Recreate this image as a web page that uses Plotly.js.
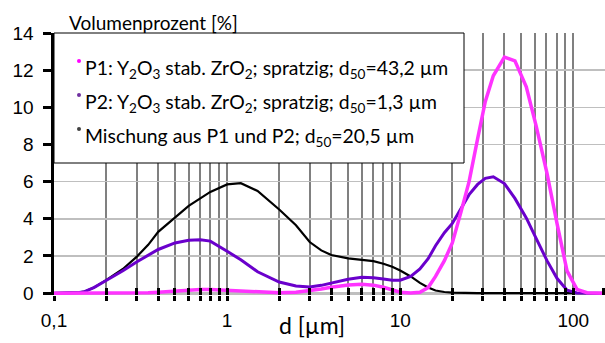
<!DOCTYPE html>
<html>
<head>
<meta charset="utf-8">
<script src="https://cdn.plot.ly/plotly-3.0.1.min.js"></script>
<style>html,body{margin:0;padding:0;background:#fff}#chart{width:605px;height:343px}</style>
</head>
<body>
<div id="chart"></div>
<script>
// particle size d [µm]
const d = [0.1, 0.12, 0.14, 0.15, 0.17, 0.2, 0.25, 0.3, 0.35, 0.4, 0.5, 0.6, 0.7, 0.8, 1.0, 1.2, 1.5, 2, 2.5, 3, 3.5, 4, 5, 6, 7, 8, 9, 10, 11.5, 13, 14.5, 16, 18, 20, 22.5, 25, 28, 31, 34.5, 40, 46, 53.5, 61, 70.5, 80.5, 92, 105, 120, 150];
// P1 (magenta)
const p1 = [0, 0, 0, 0, 0, 0, 0, 0, 0.02, 0.05, 0.12, 0.18, 0.2, 0.2, 0.16, 0.11, 0.05, 0.02, 0.05, 0.13, 0.22, 0.32, 0.44, 0.48, 0.43, 0.32, 0.17, 0.05, 0.01, 0.05, 0.3, 0.9, 1.75, 2.7, 4.4, 6.0, 8.3, 10.3, 11.7, 12.7, 12.5, 11.1, 9.0, 6.45, 3.75, 1.2, 0.2, 0.02, 0];
// P2 (purple)
const p2 = [0, 0.01, 0.04, 0.08, 0.3, 0.68, 1.2, 1.68, 2.05, 2.35, 2.7, 2.85, 2.87, 2.8, 2.25, 1.8, 1.15, 0.6, 0.38, 0.33, 0.42, 0.55, 0.75, 0.85, 0.83, 0.76, 0.7, 0.7, 0.9, 1.3, 1.85, 2.55, 3.25, 3.75, 4.6, 5.3, 5.85, 6.18, 6.26, 5.9, 5.1, 4.05, 2.95, 1.75, 0.8, 0.16, 0.01, 0, 0];
// Mischung (black)
const mix = [0, 0.01, 0.04, 0.08, 0.3, 0.7, 1.3, 1.95, 2.6, 3.3, 4.1, 4.7, 5.1, 5.45, 5.85, 5.92, 5.5, 4.5, 3.65, 2.75, 2.3, 2.05, 1.87, 1.8, 1.72, 1.58, 1.42, 1.22, 0.9, 0.55, 0.3, 0.14, 0.06, 0.03, 0.01, 0, 0, 0, 0, 0, 0, 0, 0, 0, 0, 0, 0, 0, 0];

const seriesNames = [
  "P1: Y<sub>2</sub>O<sub>3</sub> stab. ZrO<sub>2</sub>; spratzig; d<sub>50</sub>=43,2 µm",
  "P2: Y<sub>2</sub>O<sub>3</sub> stab. ZrO<sub>2</sub>; spratzig; d<sub>50</sub>=1,3 µm",
  "Mischung aus P1 und P2; d<sub>50</sub>=20,5 µm"
];
const dotColors = ["#FF00FF", "#7030A0", "#404040"];

const majorVals = [0.1, 1, 10, 100];
const majorText = ["0,1", "1", "10", "100"];
const minorVals = [0.2,0.3,0.4,0.5,0.6,0.7,0.8,0.9,2,3,4,5,6,7,8,9,20,30,40,50,60,70,80,90];
const allTickVals = majorVals.concat(minorVals, [150]);
const yTicks = [0, 2, 4, 6, 8, 10, 12, 14];

const W = 605, H = 343, L = 54, T = 33, B = 48;
const plotW = W - L, plotH = H - T - B;
const px = v => (v - L) / plotW;
const py = v => (T + plotH - v) / plotH;

const traces = [
  {x: d, y: mix, name: "Mischung", mode: "lines", line: {color: "#000000", width: 2.2}},
  {x: d, y: p2, name: "P2", mode: "lines", line: {color: "#6A00CC", width: 3}},
  {x: d, y: p1, name: "P1", mode: "lines", line: {color: "#FF33FF", width: 3.5}},
  {x: [1], y: [-5], xaxis: "x2", mode: "markers", marker: {opacity: 0}, hoverinfo: "skip"}
];

const uiFont = "Lato, 'Open Sans', sans-serif";
const numFont = "'Liberation Sans', Arial, sans-serif";
const annotations = [
  {text: "Volumenprozent [%]", xref: "paper", yref: "paper", x: px(67), y: py(22), xanchor: "left", yanchor: "middle", showarrow: false, font: {family: uiFont, size: 19, color: "#000"}},
  {text: "d [µm]", xref: "paper", yref: "paper", x: px(312), y: py(325), xanchor: "center", yanchor: "middle", showarrow: false, font: {family: uiFont, size: 23, color: "#000"}}
];
const shapes = [
  {type: "line", xref: "paper", yref: "y", x0: 0, x1: 1, y0: 0, y1: 0, line: {color: "#000", width: 2}, layer: "between"},
  {type: "rect", xref: "paper", yref: "paper", x0: 0, x1: px(464), y0: py(163), y1: 1, fillcolor: "#FFFFFF", line: {color: "#000", width: 1}, layer: "above"}
];
const rowY = [69, 103, 137];
seriesNames.forEach((s, i) => {
  annotations.push({text: s, xref: "paper", yref: "paper", x: px(83), y: py(rowY[i]), xanchor: "left", yanchor: "middle", showarrow: false, font: {family: uiFont, size: 19.4, color: "#000"}});
  shapes.push({type: "circle", xref: "paper", yref: "paper", x0: px(77), x1: px(81), y0: py(rowY[i] - 6), y1: py(rowY[i] - 10), fillcolor: dotColors[i], line: {width: 0}, layer: "above"});
});

const xr = [-1, -1 + plotW / 173.1];
const layout = {
  width: W, height: H,
  margin: {l: L, r: 0, t: T, b: B, pad: 0},
  paper_bgcolor: "#fff", plot_bgcolor: "#fff",
  showlegend: false,
  xaxis: {
    type: "log", range: xr, tickmode: "array", tickvals: majorVals, ticktext: majorText,
    showgrid: true, gridcolor: "#808080", gridwidth: 2,
    ticks: "outside", ticklen: 5, tickwidth: 3, tickcolor: "#000",
    minor: {tickmode: "array", tickvals: minorVals, ticks: "outside", ticklen: 5, tickwidth: 3, tickcolor: "#000",
            showgrid: true, gridcolor: "#808080", gridwidth: 2},
    showline: false, zeroline: false, ticklabelstandoff: 3,
    tickfont: {family: numFont, size: 19, color: "#000"}
  },
  xaxis2: {
    type: "log", range: xr, overlaying: "x", anchor: "y", side: "bottom",
    tickmode: "array", tickvals: allTickVals, showticklabels: false,
    ticks: "inside", ticklen: 7, tickwidth: 3, tickcolor: "#000",
    showgrid: false, showline: false, zeroline: false
  },
  yaxis: {
    range: [-0.1, 14], tickmode: "array", tickvals: yTicks, ticktext: yTicks.map(String),
    showgrid: true, gridcolor: "#BFBFBF", gridwidth: 1.6,
    zeroline: false,
    showline: true, linecolor: "#000", linewidth: 3.5,
    ticks: "outside", ticklen: 8, tickwidth: 3, tickcolor: "#000", ticklabelstandoff: 5,
    tickfont: {family: numFont, size: 19, color: "#000"}
  },
  annotations: annotations,
  shapes: shapes
};

Plotly.newPlot("chart", traces, layout, {staticPlot: true, displayModeBar: false});
</script>
</body>
</html>
